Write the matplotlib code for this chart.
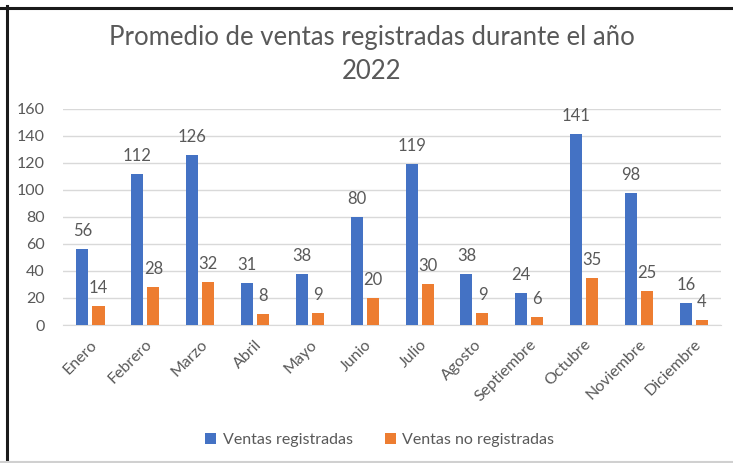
import numpy as np
import matplotlib
matplotlib.use("Agg")
import matplotlib.pyplot as plt
from matplotlib.lines import Line2D

plt.rcParams["font.family"] = ["Lato", "DejaVu Sans"]

meses = ["Enero", "Febrero", "Marzo", "Abril", "Mayo", "Junio", "Julio",
         "Agosto", "Septiembre", "Octubre", "Noviembre", "Diciembre"]
registradas = [56, 112, 126, 31, 38, 80, 119, 38, 24, 141, 98, 16]
no_registradas = [14, 28, 32, 8, 9, 20, 30, 9, 6, 35, 25, 4]
titulo = "Promedio de ventas registradas durante el año\n2022"

azul = "#4472C4"
naranja = "#ED7D31"
gris_texto = "#595959"

fig = plt.figure(figsize=(7.33, 4.63), dpi=100)
ax = fig.add_axes([0.086, 0.298, 0.898, 0.467])

x = np.arange(len(meses))
w = 0.22
off = 0.146
b1 = ax.bar(x - off, registradas, w, color=azul, label="Ventas registradas", zorder=3)
b2 = ax.bar(x + off, no_registradas, w, color=naranja, label="Ventas no registradas", zorder=3)

for bars, vals in [(b1, registradas), (b2, no_registradas)]:
    for rect, v in zip(bars, vals):
        ax.annotate(str(v), (rect.get_x() + rect.get_width() / 2, rect.get_height()),
                    xytext=(0, 13), textcoords="offset points", ha="center", va="center",
                    fontsize=12, color=gris_texto)

ax.set_xlim(-0.5, len(meses) - 0.5)
ax.set_ylim(0, 160)
ax.set_yticks(range(0, 161, 20))
ax.set_xticks(x)
ax.set_xticklabels(meses, rotation=45, ha="right", rotation_mode="anchor")
ax.tick_params(axis="both", length=0, labelsize=11.5, labelcolor=gris_texto)
ax.tick_params(axis="x", pad=9)
ax.tick_params(axis="y", pad=13)
ax.grid(axis="y", color="#D9D9D9", linewidth=1, zorder=0)
for s in ["top", "right", "left"]:
    ax.spines[s].set_visible(False)
ax.spines["bottom"].set_color("#D9D9D9")

fig.text(0.507, 0.882, titulo, ha="center", va="center", fontsize=18.5,
         color=gris_texto, linespacing=1.45)

fig.legend(handles=[b1, b2], loc="center", bbox_to_anchor=(0.518, 0.05), ncol=2,
           frameon=False, fontsize=11.5, labelcolor=gris_texto,
           handlelength=0.7, handleheight=0.7, handletextpad=0.4, columnspacing=2.0)

# marco de la imagen
fig.add_artist(Line2D([0.0, 1.0], [1 - 7.5 / 463, 1 - 7.5 / 463], color="#1a1a1a", lw=2.2))
fig.add_artist(Line2D([6.5 / 733, 6.5 / 733], [0.0, 1 - 6 / 463], color="#1a1a1a", lw=2.2))
fig.add_artist(Line2D([0.0, 1.0], [1.5 / 463, 1.5 / 463], color="#D0D0D0", lw=1.5))

fig.savefig("out.png", dpi=100)
